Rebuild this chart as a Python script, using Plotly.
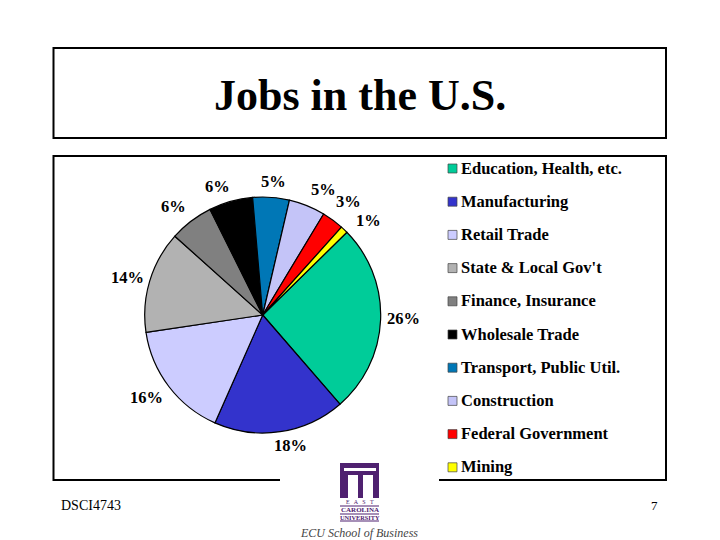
import plotly.graph_objects as go

categories = [
    "Education, Health, etc.",
    "Manufacturing",
    "Retail Trade",
    "State & Local Gov't",
    "Finance, Insurance",
    "Wholesale Trade",
    "Transport, Public Util.",
    "Construction",
    "Federal Government",
    "Mining",
]
shares = [26, 18, 16, 14, 6, 6, 5, 5, 3, 1]
slice_colors = [
    "#00CC99", "#3333CC", "#CCCCFF", "#B2B2B2", "#808080",
    "#000000", "#0077B6", "#C4C4F8", "#FF0000", "#FFFF00",
]
share_labels = [f"{s}%" for s in shares]

W, H = 720, 540
SERIF = "Liberation Serif"
PURPLE = "#4F2170"

# where each percent label goes, plotly's own outside text adds leader lines
label_spots = [
    (403, 318), (290, 445), (146, 397), (127, 277), (173, 206),
    (217, 186), (273, 181), (323, 189), (348, 202), (368, 221),
]


def px(x):
    return x / W


def py(y):
    return 1 - y / H


def rect(x0, y0, x1, y1, fill="rgba(0,0,0,0)", line="black", width=0):
    return dict(
        type="rect", xref="paper", yref="paper",
        x0=px(x0), x1=px(x1), y0=py(y0), y1=py(y1),
        fillcolor=fill, line=dict(color=line, width=width), layer="above",
    )


def label(x, y, text, size, anchor="left", color="black", bold=False, italic=False):
    if bold:
        text = f"<b>{text}</b>"
    if italic:
        text = f"<i>{text}</i>"
    return dict(
        xref="paper", yref="paper", x=px(x), y=py(y), text=text,
        showarrow=False, xanchor=anchor, yanchor="middle", borderpad=0,
        font=dict(family=SERIF, size=size, color=color),
    )


fig = go.Figure(
    go.Pie(
        labels=categories,
        values=shares,
        textinfo="none",
        marker=dict(colors=slice_colors, line=dict(color="black", width=1.2)),
        sort=False,
        direction="clockwise",
        rotation=45.5,
        showlegend=False,
        automargin=False,
        domain=dict(x=[px(144.7), px(380.7)], y=[py(433), py(197)]),
    )
)

shapes = [
    # title box and chart box
    rect(53.5, 48, 666, 138, line="black", width=2),
    rect(53.5, 156, 666, 480, line="black", width=2),
    # the logo sits on a white patch which breaks the bottom line
    rect(280, 470, 439, 490, fill="white"),
    rect(340, 463, 379, 498, fill=PURPLE),
    # gaps in the logo building
    rect(344, 468, 376, 471, fill="white"),
    rect(348, 475, 358, 498, fill="white"),
    rect(363, 475, 373, 498, fill="white"),
    # rules under the logo lettering
    rect(340, 505.5, 379, 506.5, fill=PURPLE),
    rect(340, 513.5, 379, 514.5, fill=PURPLE),
    rect(340, 520.5, 379, 521.5, fill=PURPLE),
]

annotations = [
    label(360, 95, "Jobs in the U.S.", 44, anchor="center", bold=True),
    label(60, 505, "DSCI4743", 14),
    label(659, 505, "7", 13, anchor="right"),
    label(359.5, 501.5, "E   A   S   T", 6, anchor="center", color=PURPLE),
    label(359.5, 510, "CAROLINA", 7, anchor="center", color=PURPLE, bold=True),
    label(359.5, 517.5, "UNIVERSITY", 6.3, anchor="center", color=PURPLE, bold=True),
    label(358.5, 532.5, "ECU School of Business", 12, anchor="center", color="#444444", italic=True),
]

for spot, text in zip(label_spots, share_labels):
    annotations.append(label(spot[0], spot[1], text, 16.5, anchor="center", bold=True))

# legend drawn by hand, the spacing is wider than plotly's own legend allows
for i, (name, color) in enumerate(zip(categories, slice_colors)):
    y = 168 + i * 33.2
    shapes.append(rect(448, y - 4, 457, y + 5, fill=color, line="#444444", width=0.7))
    annotations.append(label(460, y, name, 16.5, bold=True))

fig.update_layout(
    width=W,
    height=H,
    margin=dict(l=0, r=0, t=0, b=0),
    paper_bgcolor="white",
    shapes=shapes,
    annotations=annotations,
)

fig.write_html(
    "out.html",
    config=dict(displayModeBar=False),
    post_script="document.body.style.margin='0';",
)
